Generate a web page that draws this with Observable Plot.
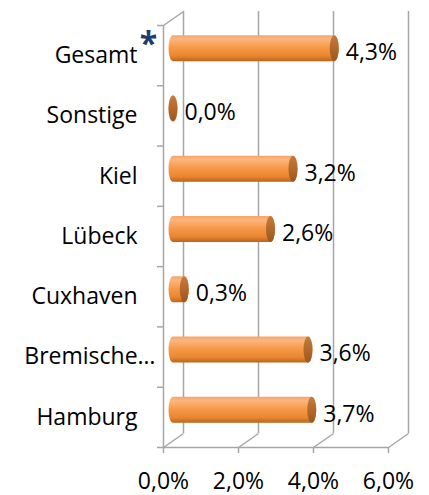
<!DOCTYPE html>
<html>
<head>
<meta charset="utf-8">
<script src="https://cdn.jsdelivr.net/npm/d3@7"></script>
<script src="https://cdn.jsdelivr.net/npm/@observablehq/plot@0.6"></script>
<style>
  html, body { margin: 0; padding: 0; background: #fff; }
  #chart svg { display: block; }
</style>
</head>
<body>
<svg width="0" height="0" style="position:absolute">
  <defs>
    <linearGradient id="body" x1="0" y1="0" x2="0" y2="1">
      <stop offset="0" stop-color="#F3A66A"/>
      <stop offset="0.15" stop-color="#FBB67F"/>
      <stop offset="0.45" stop-color="#F89A4B"/>
      <stop offset="0.8" stop-color="#E9862F"/>
      <stop offset="1" stop-color="#B8641F"/>
    </linearGradient>
    <linearGradient id="cap" x1="0" y1="0" x2="0" y2="1">
      <stop offset="0" stop-color="#C57B3E"/>
      <stop offset="0.5" stop-color="#B2692C"/>
      <stop offset="1" stop-color="#9C5620"/>
    </linearGradient>
  </defs>
</svg>
<div id="chart"></div>
<script>
const categories = ["Gesamt", "Sonstige", "Kiel", "Lübeck", "Cuxhaven", "Bremische…", "Hamburg"];
const values = [4.3, 0.0, 3.2, 2.6, 0.3, 3.6, 3.7];
const xTicks = [0, 2, 4, 6];

const W = 429, H = 495;
const mL = 163, mR = 41, mT = 25, mB = 48;
const n = categories.length;
const pxPerX = (W - mL - mR) / 6;
const pxPerY = (H - mT - mB) / n;
const depthX = 20, depthY = 14;          // wall depth in px
const dXu = depthX / pxPerX, dYu = depthY / pxPerY;
const barHalf = 13 / pxPerY;

const fmt = v => d3.format(".1f")(v).replace(".", ",") + "%";
const rows = categories.map((c, i) => ({cat: c, value: values[i], pos: n - 1 - i + 0.5}));
const grid = "#A6A6A6";
const font = "Open Sans";
const fs = 23;

const chart = Plot.plot({
  width: W, height: H,
  marginLeft: mL, marginRight: mR, marginTop: mT, marginBottom: mB,
  style: {fontFamily: font, fontSize: fs + "px", color: "#000", background: "#fff"},
  x: {domain: [0, 6], ticks: xTicks, tickFormat: fmt, label: null},
  y: {domain: [0, n], ticks: d3.range(0, n + 1), label: null},
  marks: [
    // back wall grid lines
    Plot.ruleX(xTicks, {x: d => d, y1: 0, y2: n, dx: depthX, dy: -depthY, stroke: grid, strokeWidth: 1.5}),
    // floor diagonals
    Plot.link(xTicks, {x1: d => d, y1: 0, x2: d => d + dXu, y2: dYu, stroke: grid, strokeWidth: 1.5}),
    // top-left diagonal
    Plot.link([0], {x1: 0, y1: n, x2: dXu, y2: n + dYu, stroke: grid, strokeWidth: 1.5}),
    // front axes
    Plot.ruleX([0], {y1: 0, y2: n, stroke: grid, strokeWidth: 1.5}),
    Plot.ruleY([0], {x1: 0, x2: 6, stroke: grid, strokeWidth: 1.5}),
    Plot.axisX({ticks: xTicks, tickFormat: fmt, label: null, tickSize: 6, tickPadding: 19, stroke: grid, strokeWidth: 1.5, fontSize: fs, fill: "#000", fontFamily: font}),
    Plot.axisY({ticks: d3.range(0, n + 1), tickFormat: () => "", label: null, tickSize: 6, stroke: grid, strokeWidth: 1.5}),
    // cylinder bodies
    Plot.rect(rows, {x1: 0, x2: "value", y1: d => d.pos - barHalf, y2: d => d.pos + barHalf,
      dx: 10, dy: -7, insetLeft: -4.5, insetRight: -4.5, rx: 4.5, ry: 13, fill: "url(#body)"}),
    // cylinder end caps
    Plot.rect(rows, {x1: "value", x2: "value", y1: d => d.pos - barHalf, y2: d => d.pos + barHalf,
      dx: 10, dy: -7, insetLeft: -4.5, insetRight: -4.5, rx: 4.5, ry: 13, fill: "url(#cap)"}),
    // value labels
    Plot.text(rows, {x: "value", y: "pos", text: d => fmt(d.value), textAnchor: "start", dx: 21, dy: -3,
      fontSize: fs, fill: "#000", fontFamily: font}),
    // category labels
    Plot.text(rows.filter(d => d.cat !== "Bremische…"), {x: 0, y: "pos", text: "cat", textAnchor: "end", dx: -26, dy: 0,
      fontSize: fs, fill: "#000", fontFamily: font}),
    Plot.text(rows.filter(d => d.cat === "Bremische…"), {x: 0, y: "pos", text: "cat", textAnchor: "end", dx: -8, dy: 0,
      fontSize: fs, fill: "#000", fontFamily: font}),
    // asterisk
    Plot.text(rows.filter(d => d.cat === "Gesamt"), {x: 0, y: "pos", text: () => "*", textAnchor: "middle", dx: -15, dy: -11,
      fontSize: 32, fontWeight: "bold", fill: "#1F3A6E", fontFamily: font})
  ]
});
document.getElementById("chart").appendChild(chart);
</script>
</body>
</html>
